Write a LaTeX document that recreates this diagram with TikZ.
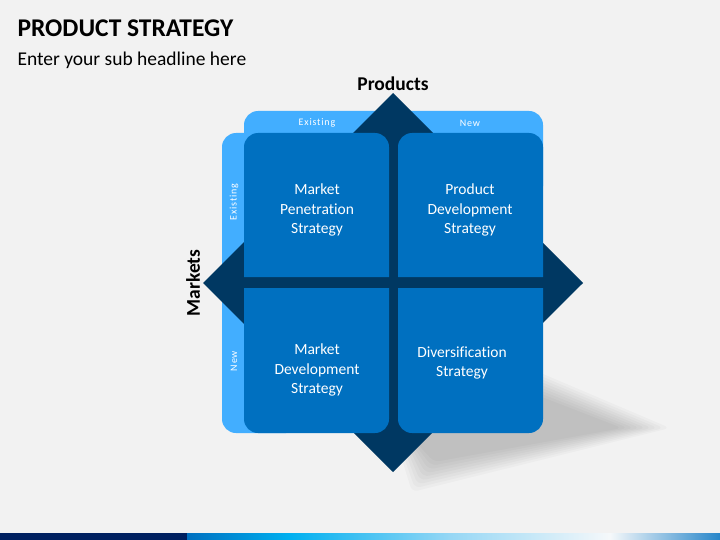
\documentclass[tikz,border=0pt]{standalone}
\usepackage{fontspec}
\setmainfont{Carlito}[Ligatures=CommonOff]
\usetikzlibrary{calc}
\definecolor{pagegray}{RGB}{242,242,242}
\definecolor{cellblue}{RGB}{0,112,192}
\definecolor{bandblue}{RGB}{66,174,255}
\definecolor{crossnavy}{RGB}{0,56,98}
\definecolor{barnavy}{RGB}{0,32,96}
\definecolor{barcyan}{RGB}{0,176,240}
\definecolor{barpale}{RGB}{150,215,245}
\definecolor{barwhite}{RGB}{245,248,250}
\tikzset{
  cell/.style={fill=cellblue},
  band/.style={fill=bandblue,rounded corners=14pt},
  shadowpart/.style={fill=black,opacity=0.025,rounded corners=6pt},
  celltext/.style={text=white,align=center,font=\fontsize{15.5}{19.5}\selectfont},
  axislabel/.style={font=\bfseries\fontsize{19.5}{22}\selectfont},
  tag/.style={text=white,font=\fontsize{10}{12}\selectfont\addfontfeatures{LetterSpace=8}}
}
\begin{document}
\begin{tikzpicture}[x=1pt,y=-1pt]
			\useasboundingbox (0,0) rectangle (720,540);
			\fill[pagegray] (0,0) rectangle (720,540);
			\node[anchor=west,font=\bfseries\fontsize{25.5}{30}\selectfont] (title) at (14,28) {PRODUCT STRATEGY};
			\node[anchor=west,font=\fontsize{19.5}{23}\selectfont] (subtitle) at (14,60) {Enter your sub headline here};
			\path (393,283) coordinate (centre);
			\path (393,93) coordinate (N);
			\path (583,283) coordinate (E);
			\path (393,472) coordinate (S);
			\path (203,283) coordinate (W);
			% shadow, outer and inner outline
			\path (515,362) coordinate (A1);
			\path (670,428) coordinate (B1);
			\path (412,492) coordinate (C1);
			\path (396,440) coordinate (D1);
			\path (534,394) coordinate (A2);
			\path (622,428) coordinate (B2);
			\path (434,462) coordinate (C2);
			\path (414,440) coordinate (D2);
			\foreach \t in {0,0.125,...,1}
				\fill[shadowpart] ($(A1)!\t!(A2)$) -- ($(B1)!\t!(B2)$) -- ($(C1)!\t!(C2)$) -- ($(D1)!\t!(D2)$) -- cycle;
			% bands
			\fill[band] (244,111) rectangle (543,200);
			\fill[band] (222,133) rectangle (300,433);
			\fill[crossnavy] (N) -- (E) -- (S) -- (W) -- cycle;
			% cells
			\fill[cell] (244,277) [rounded corners=14pt] -- (244,133) -- (389,133) [sharp corners] -- (389,277) -- cycle;
			\fill[cell] (398,277) [rounded corners=14pt] -- (398,133) -- (543,133) [sharp corners] -- (543,277) -- cycle;
			\fill[cell] (244,288) [rounded corners=14pt] -- (244,433) -- (389,433) [sharp corners] -- (389,288) -- cycle;
			\fill[cell] (398,288) [rounded corners=14pt] -- (398,433) -- (543,433) [sharp corners] -- (543,288) -- cycle;
			\node[celltext] (penetration) at (317,210) {Market\\Penetration\\Strategy};
			\node[celltext] (productdev) at (470,210) {Product\\Development\\Strategy};
			\node[celltext] (marketdev) at (317,370) {Market\\Development\\Strategy};
			\node[celltext] (diversify) at (462,363) {Diversification\\Strategy};
			\node[tag] (pexisting) at (317,123) {Existing};
			\node[tag] (pnew) at (470,123) {New};
			\node[tag,rotate=90] (mexisting) at (234,202) {Existing};
			\node[tag,rotate=90] (mnew) at (234,361) {New};
			\node[axislabel] (products) at (393,84) {Products};
			\node[axislabel,rotate=90] (markets) at (193,283) {Markets};
			% bottom bar
			\fill[barnavy] (0,533) rectangle (187,540);
			\shade[left color=cellblue,right color=barcyan] (187,533) rectangle (290,540);
			\shade[left color=barcyan,right color=barpale] (290,533) rectangle (450,540);
			\shade[left color=barpale,right color=barwhite] (450,533) rectangle (610,540);
			\shade[left color=barwhite,right color=cellblue!85] (610,533) rectangle (720,540);
		\end{tikzpicture}
\end{document}
